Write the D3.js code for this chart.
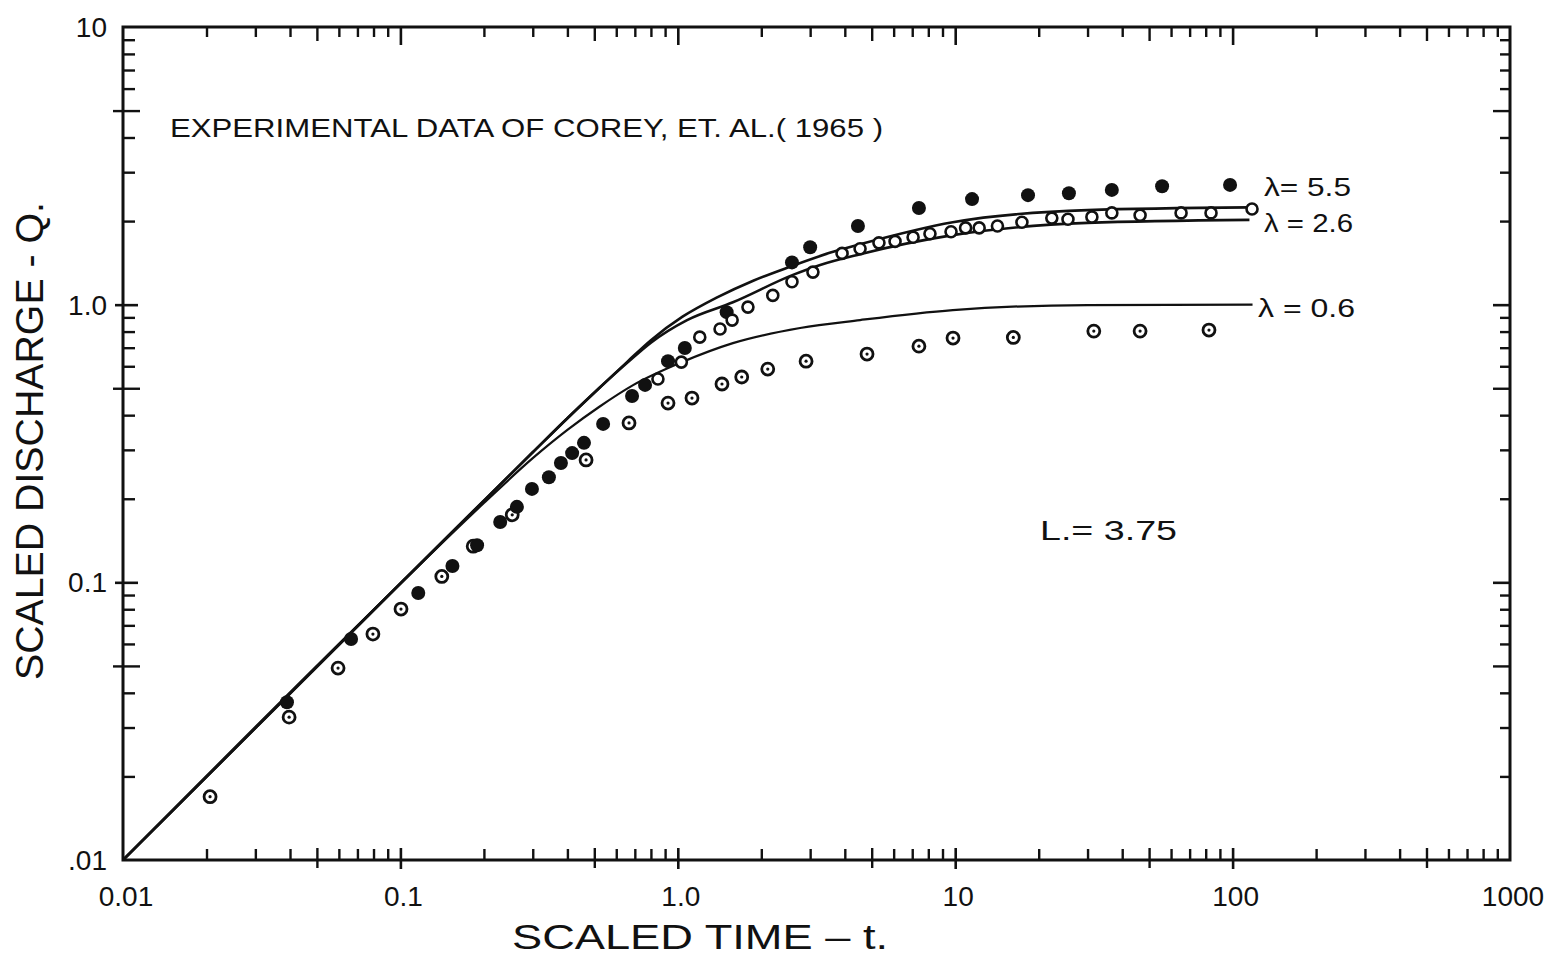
<!DOCTYPE html>
<html>
<head>
<meta charset="utf-8">
<script src="https://cdn.jsdelivr.net/npm/d3@7"></script>
<style>
  html, body { margin: 0; padding: 0; background: #fff; }
  svg { display: block; }
  text { font-family: "Liberation Sans", "DejaVu Sans", sans-serif; fill: #111; }
</style>
</head>
<body>
<svg id="chart" width="1554" height="958"></svg>
<script>
// Decade ticks and their printed labels
const xDecades = [0.01, 0.1, 1, 10, 100, 1000];
const xTickLabels = ["0.01", "0.1", "1.0", "10", "100", "1000"];
const yDecades = [0.01, 0.1, 1, 10];
const yTickLabels = [".01", "0.1", "1.0", "10"];

// Experimental points [t, Q] — Corey et al. (1965)
const pointsLambda55 = [
  [0.039, 0.037], [0.0664, 0.0625], [0.116, 0.0915], [0.154, 0.1145], [0.189, 0.136],
  [0.229, 0.165], [0.263, 0.187], [0.298, 0.217], [0.343, 0.239], [0.379, 0.269],
  [0.416, 0.292], [0.459, 0.318], [0.538, 0.372], [0.684, 0.469], [0.762, 0.514],
  [0.922, 0.626], [1.06, 0.698], [1.50, 0.940], [2.58, 1.42], [3.0, 1.61],
  [4.46, 1.92], [7.4, 2.23], [11.5, 2.40], [18.3, 2.48], [25.7, 2.52],
  [36.7, 2.59], [55.7, 2.67], [97.9, 2.70]
];
const pointsLambda26 = [
  [0.848, 0.540], [1.03, 0.621], [1.20, 0.764], [1.42, 0.817], [1.57, 0.88],
  [1.79, 0.98], [2.20, 1.08], [2.58, 1.21], [3.07, 1.31], [3.91, 1.53],
  [4.54, 1.59], [5.31, 1.67], [6.07, 1.69], [7.05, 1.75], [8.11, 1.80],
  [9.66, 1.83], [10.9, 1.89], [12.2, 1.89], [14.2, 1.92], [17.4, 1.98],
  [22.3, 2.05], [25.5, 2.03], [31.1, 2.07], [36.7, 2.14], [46.4, 2.10],
  [65.2, 2.14], [83.6, 2.14], [117.5, 2.21]
];
const pointsLambda06 = [
  [0.0206, 0.0169], [0.0397, 0.0327], [0.0596, 0.0491], [0.0796, 0.0651], [0.1005, 0.0801],
  [0.141, 0.105], [0.183, 0.135], [0.253, 0.175], [0.467, 0.276], [0.667, 0.375],
  [0.922, 0.442], [1.125, 0.461], [1.443, 0.518], [1.70, 0.549], [2.11, 0.586],
  [2.90, 0.626], [4.81, 0.664], [7.40, 0.709], [9.82, 0.758], [16.2, 0.762],
  [31.6, 0.803], [46.4, 0.803], [82.2, 0.810]
];

// Computed discharge curves [t, Q] for each pore-size index
const curveLambda55 = [
  [0.01, 0.01], [0.1, 0.099], [0.2, 0.197], [0.3, 0.294], [0.4, 0.39], [0.52, 0.5],
  [0.66, 0.625], [0.8, 0.745], [1.04, 0.905], [1.38, 1.06], [1.87, 1.22], [2.54, 1.37],
  [3.63, 1.55], [4.54, 1.65], [9.8, 1.98], [30, 2.19], [115, 2.24]
];
const curveLambda26 = [
  [0.01, 0.01], [0.1, 0.099], [0.2, 0.197], [0.3, 0.294], [0.4, 0.39], [0.52, 0.5],
  [0.66, 0.62], [0.8, 0.73], [1.08, 0.88], [1.58, 1.02], [2.6, 1.28], [3.26, 1.39],
  [4.54, 1.52], [9.8, 1.78], [30, 1.97], [115, 2.02]
];
const curveLambda06 = [
  [0.01, 0.01], [0.1, 0.099], [0.2, 0.193], [0.3, 0.28], [0.4, 0.354], [0.52, 0.428],
  [0.69, 0.513], [1.035, 0.621], [1.58, 0.727], [2.76, 0.824], [4.54, 0.88],
  [9.8, 0.956], [30, 0.997], [118, 1.0]
];

const curveLabels = ["\u03bb= 5.5", "\u03bb = 2.6", "\u03bb = 0.6"];

const svg = d3.select("#chart");
const plotLeft = 123, plotRight = 1510, plotTop = 27, plotBottom = 860;

const x = d3.scaleLog().domain([0.01, 1000]).range([plotLeft, plotRight]);
const y = d3.scaleLog().domain([0.01, 10]).range([plotBottom, plotTop]);

// minor ticks 2..9 in every decade; "5" gets a longer crossing tick
function mantissa(v) { return Math.round(v / Math.pow(10, Math.floor(Math.log10(v) + 1e-9))); }
function minors(decades) {
  const out = [];
  decades.slice(0, -1).forEach(d => { for (let m = 2; m <= 9; m++) out.push(+(d * m).toPrecision(3)); });
  return out;
}
const xMinor = minors(xDecades).filter(v => mantissa(v) !== 5);
const xFive = minors(xDecades).filter(v => mantissa(v) === 5);
const yMinor = minors(yDecades).filter(v => mantissa(v) !== 5);
const yFive = minors(yDecades).filter(v => mantissa(v) === 5);
const xInnerDec = xDecades.slice(1, -1);
const yInnerDec = yDecades.slice(1, -1);

const ax = svg.append("g");

function drawAxis(gen, values, pos, inner, outer, width) {
  const g = ax.append("g").attr("transform", pos)
    .call(gen.tickValues(values).tickSize(-inner).tickFormat(""));
  g.select(".domain").remove();
  g.selectAll("text").remove();
  g.selectAll(".tick line").attr("stroke", "#111").attr("stroke-width", width);
  if (outer) {
    g.selectAll(".tick line").each(function () {
      const l = d3.select(this);
      const y2 = l.attr("y2"), x2 = l.attr("x2");
      if (y2 !== null && +y2 !== 0) l.attr("y1", +y2 > 0 ? -outer : outer);
      else if (x2 !== null && +x2 !== 0) l.attr("x1", +x2 > 0 ? -outer : outer);
    });
  }
  return g;
}

// bottom axis
drawAxis(d3.axisBottom(x), xMinor, `translate(0,${plotBottom})`, 11, 0, 2.4);
drawAxis(d3.axisBottom(x), xFive, `translate(0,${plotBottom})`, 12, 8, 2.4);
drawAxis(d3.axisBottom(x), xInnerDec, `translate(0,${plotBottom})`, 12, 9, 2.6);
// top axis
drawAxis(d3.axisTop(x), xMinor, `translate(0,${plotTop})`, 10, 0, 2.4);
drawAxis(d3.axisTop(x), xFive, `translate(0,${plotTop})`, 14, 0, 2.4);
drawAxis(d3.axisTop(x), xInnerDec, `translate(0,${plotTop})`, 18, 0, 2.6);
// left axis
drawAxis(d3.axisLeft(y), yMinor, `translate(${plotLeft},0)`, 12, 0, 2.4);
drawAxis(d3.axisLeft(y), yFive, `translate(${plotLeft},0)`, 17, 10, 2.4);
drawAxis(d3.axisLeft(y), yInnerDec, `translate(${plotLeft},0)`, 15, 8, 2.6);
// right axis
drawAxis(d3.axisRight(y), yMinor, `translate(${plotRight},0)`, 10, 0, 2.4);
drawAxis(d3.axisRight(y), yFive, `translate(${plotRight},0)`, 17, 0, 2.4);
drawAxis(d3.axisRight(y), yInnerDec, `translate(${plotRight},0)`, 17, 0, 2.6);

// frame
svg.append("rect")
  .attr("x", plotLeft).attr("y", plotTop)
  .attr("width", plotRight - plotLeft).attr("height", plotBottom - plotTop)
  .attr("fill", "none").attr("stroke", "#111").attr("stroke-width", 3);

// tick labels
svg.append("g").selectAll("text").data(xDecades).join("text")
  .attr("x", d => x(d) + 3).attr("y", 906)
  .attr("text-anchor", "middle").attr("font-size", 28)
  .text((d, i) => xTickLabels[i]);
svg.append("g").selectAll("text").data(yDecades).join("text")
  .attr("x", 107).attr("y", d => y(d) + 10)
  .attr("text-anchor", "end").attr("font-size", 28)
  .text((d, i) => yTickLabels[i]);

// axis titles
svg.append("text")
  .attr("x", 512).attr("y", 949)
  .attr("font-size", 35)
  .attr("textLength", 376).attr("lengthAdjust", "spacingAndGlyphs")
  .text("SCALED  TIME  \u2013  t.");
svg.append("text")
  .attr("transform", "translate(43,680) rotate(-90)")
  .attr("font-size", 38)
  .attr("textLength", 478).attr("lengthAdjust", "spacingAndGlyphs")
  .text("SCALED  DISCHARGE - Q.");

// heading and parameter note
svg.append("text")
  .attr("x", 170).attr("y", 137)
  .attr("font-size", 26)
  .attr("textLength", 713).attr("lengthAdjust", "spacingAndGlyphs")
  .text("EXPERIMENTAL  DATA  OF  COREY,  ET. AL.( 1965 )");
svg.append("text")
  .attr("x", 1040).attr("y", 540)
  .attr("font-size", 28)
  .attr("textLength", 137).attr("lengthAdjust", "spacingAndGlyphs")
  .text("L.= 3.75");

// curves
const line = d3.line().x(d => x(d[0])).y(d => y(d[1])).curve(d3.curveMonotoneX);
const curves = [curveLambda55, curveLambda26, curveLambda06];
const curveWidths = [2.6, 2.6, 2.2];
svg.append("g").selectAll("path").data(curves).join("path")
  .attr("d", line)
  .attr("fill", "none").attr("stroke", "#111")
  .attr("stroke-width", (d, i) => curveWidths[i]);

// curve labels at the right-hand end of each curve
const labelPos = [
  { yv: 2.70, w: 87 },
  { yv: 2.02, w: 89 },
  { yv: 1.0, w: 97 }
];
svg.append("g").selectAll("text").data(labelPos).join("text")
  .attr("x", (d, i) => i === 2 ? 1258 : 1264)
  .attr("y", (d, i) => (i === 0 ? y(d.yv) + 11 : y(d.yv) + 12))
  .attr("font-size", 25)
  .attr("textLength", d => d.w).attr("lengthAdjust", "spacingAndGlyphs")
  .text((d, i) => curveLabels[i]);

// data markers
const marks = svg.append("g");
marks.selectAll("circle.l06").data(pointsLambda06).join("circle")
  .attr("class", "l06")
  .attr("cx", d => x(d[0])).attr("cy", d => y(d[1])).attr("r", 6)
  .attr("fill", "#fff").attr("stroke", "#111").attr("stroke-width", 2.8);
marks.selectAll("circle.l06dot").data(pointsLambda06).join("circle")
  .attr("class", "l06dot")
  .attr("cx", d => x(d[0])).attr("cy", d => y(d[1])).attr("r", 1.6)
  .attr("fill", "#111");
marks.selectAll("circle.l55").data(pointsLambda55).join("circle")
  .attr("class", "l55")
  .attr("cx", d => x(d[0])).attr("cy", d => y(d[1])).attr("r", 7)
  .attr("fill", "#111");
marks.selectAll("circle.l26").data(pointsLambda26).join("circle")
  .attr("class", "l26")
  .attr("cx", d => x(d[0])).attr("cy", d => y(d[1])).attr("r", 5.5)
  .attr("fill", "#fff").attr("stroke", "#111").attr("stroke-width", 2.6);
</script>
</body>
</html>
